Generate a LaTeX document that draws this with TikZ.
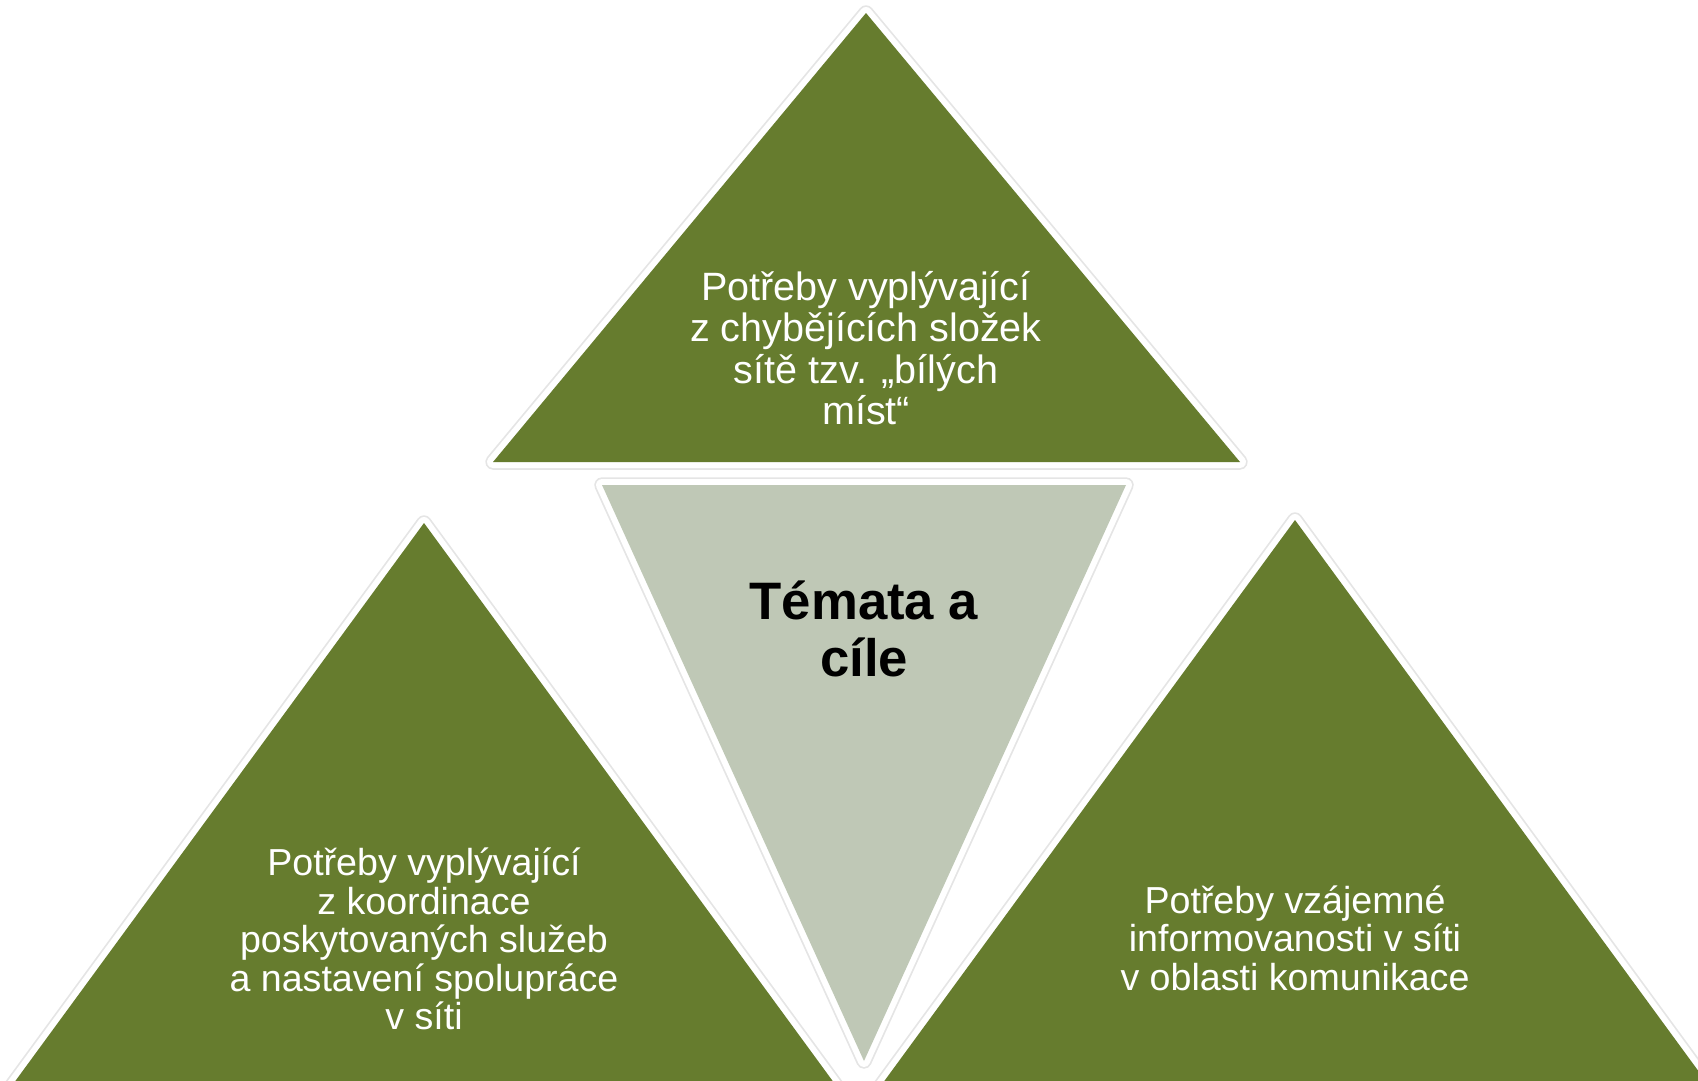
\documentclass[tikz,border=0pt]{standalone}
\usepackage{fontspec}
\setmainfont{Liberation Sans}
\definecolor{leaf}{HTML}{667C2E}
\definecolor{sage}{HTML}{BFC8B6}
\begin{document}
\begin{tikzpicture}[x=0.02cm,y=-0.02cm,
    rim/.style={draw=white,line width=2.4mm,line join=round},
    halo/.style={draw=black!10,line width=3.1mm,line join=round,yshift=-2pt},
    txt/.style={text=white,align=center,font=\fontsize{22.5}{23.5}\selectfont},
    small/.style={txt,font=\fontsize{21.4}{22}\selectfont},
    bold/.style={text=black,align=center,font=\fontsize{30}{32}\selectfont\bfseries}]
    \useasboundingbox (0,0) rectangle (1698,1080);
    % corners of the four triangles
    \coordinate (lA) at (424,523); \coordinate (lB) at (8,1091); \coordinate (lC) at (840,1091);
    \coordinate (rA) at (1295,520); \coordinate (rB) at (877,1091); \coordinate (rC) at (1713,1091);
    \coordinate (tA) at (866,13); \coordinate (tB) at (493,462); \coordinate (tC) at (1240,462);
    \coordinate (gA) at (602,485); \coordinate (gB) at (1126,485); \coordinate (gC) at (864,1061);
    % left and right
    \foreach \t in {l,r}{
        \draw[halo] (\t A)--(\t B)--(\t C)--cycle;
        \draw[rim] (\t A)--(\t B)--(\t C)--cycle;
        \fill[leaf] (\t A)--(\t B)--(\t C)--cycle;
    }
    % top
    \draw[halo] (tA)--(tB)--(tC)--cycle;
    \draw[rim] (tA)--(tB)--(tC)--cycle;
    \fill[leaf] (tA)--(tB)--(tC)--cycle;
    % centre, upside down
    \draw[halo] (gA)--(gB)--(gC)--cycle;
    \draw[rim] (gA)--(gB)--(gC)--cycle;
    \fill[sage] (gA)--(gB)--(gC)--cycle;
    \node[txt] (gaps) at (866,348) {Potřeby vyplývající\\z chybějících složek\\sítě tzv. „bílých\\míst“};
    \node[bold] (aims) at (864,629) {Témata a\\cíle};
    \node[small] (coord) at (424,939) {Potřeby vyplývající\\z koordinace\\poskytovaných služeb\\a nastavení spolupráce\\v síti};
    \node[small] (info) at (1295,938) {Potřeby vzájemné\\informovanosti v síti\\v oblasti komunikace};
\end{tikzpicture}
\end{document}
